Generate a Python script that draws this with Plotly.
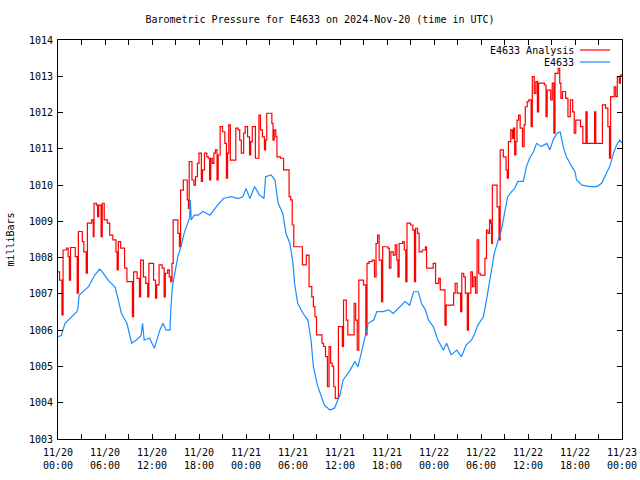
import pandas as pd
import plotly.graph_objects as go

# ---- data (hours after 2024-11-20 00:00 UTC, pressure in mbar) ----
analysis_hours = [0.0, 0.2, 0.5, 0.65, 1.1, 1.3, 1.45, 1.6, 2.2, 2.45, 2.6, 3.1, 3.3, 3.6, 3.75,
                  4.3, 4.5, 4.6, 4.9, 5.05, 5.2, 5.5, 5.65, 5.9, 6.3, 6.6, 7.0, 7.4, 7.55, 7.7,
                  8.0, 8.5, 8.8, 9.5, 9.65, 10.1, 10.4, 10.55, 10.9, 11.2, 11.45, 11.6, 12.2,
                  12.45, 12.6, 12.9, 13.3, 13.55, 13.7, 14.0, 14.2, 14.4, 14.55, 14.7, 15.3,
                  15.5, 15.65, 16.0, 16.5, 16.65, 16.75, 17.1, 17.35, 17.55, 17.8, 18.0, 18.3,
                  18.45, 18.7, 19.0, 19.2, 19.35, 19.5, 19.7, 19.9, 20.1, 20.3, 20.45, 20.7,
                  21.0, 21.3, 21.5, 21.65, 21.8, 22.0, 22.7, 23.0, 23.2, 23.4, 23.7, 23.9, 24.2,
                  24.45, 24.6, 24.8, 25.2, 25.65, 25.85, 26.1, 26.35, 26.5, 26.65, 27.3, 27.45,
                  27.6, 27.8, 27.95, 28.4, 28.8, 29.5, 29.7, 29.9, 30.1, 31.2, 31.7, 32.05,
                  32.4, 32.6, 32.8, 33.0, 33.7, 33.9, 34.15, 34.4, 34.6, 34.8, 35.0, 35.2, 35.4,
                  35.8, 36.3, 36.45, 36.8, 37.0, 37.8, 38.0, 38.2, 38.4, 39.0, 39.3, 39.45,
                  39.7, 40.1, 40.4, 40.6, 40.8, 41.0, 41.3, 41.45, 42.1, 42.3, 42.5, 42.8,
                  43.05, 43.25, 43.4, 43.55, 44.0, 44.2, 44.4, 44.55, 45.0, 45.3, 45.5, 45.65,
                  45.9, 46.1, 46.5, 46.9, 47.05, 47.9, 48.2, 48.6, 48.8, 49.4, 49.55, 50.5,
                  50.7, 50.95, 51.4, 51.55, 51.8, 52.0, 52.25, 52.4, 52.7, 52.9, 53.1, 53.3,
                  53.5, 53.7, 53.9, 54.5, 54.7, 54.9, 55.1, 55.25, 55.35, 55.45, 56.05, 56.3,
                  56.45, 56.85, 57.2, 57.35, 57.5, 57.8, 58.0, 58.15, 58.3, 58.45, 58.6, 58.8,
                  59.0, 59.3, 59.5, 59.65, 59.9, 60.1, 60.4, 60.55, 60.8, 61.0, 61.2, 61.35,
                  62.1, 62.3, 62.45, 62.9, 63.1, 63.3, 63.45, 63.85, 64.05, 64.2, 64.4, 64.8,
                  65.1, 65.4, 65.7, 65.9, 66.1, 66.7, 67.0, 67.4, 67.55, 68.5, 68.65, 69.5,
                  69.9, 70.2, 70.4, 70.55, 71.0, 71.2, 71.4, 71.65, 71.8, 72.0]
analysis_mb = [1007.61, 1007.38, 1006.42, 1008.21, 1008.26, 1008.03, 1007.38, 1008.28, 1008.03,
               1007.02, 1008.72, 1008.44, 1008.16, 1007.57, 1008.95, 1009.04, 1008.58, 1009.5,
               1009.45, 1009.13, 1009.45, 1008.58, 1009.5, 1009.04, 1008.95, 1008.62, 1008.49,
               1008.16, 1007.66, 1008.44, 1008.26, 1007.71, 1007.34, 1006.37, 1007.61, 1007.43,
               1006.92, 1007.93, 1007.47, 1007.29, 1006.92, 1007.84, 1007.38, 1006.88, 1007.25,
               1007.8, 1007.71, 1006.92, 1007.57, 1007.66, 1007.47, 1007.34, 1007.84, 1009.04,
               1008.67, 1008.3, 1009.86, 1010.14, 1009.59, 1009.36, 1010.65, 1010.14, 1010.0,
               1010.23, 1010.6, 1010.88, 1010.1, 1010.42, 1010.88, 1010.78, 1010.74, 1010.14,
               1010.74, 1010.6, 1010.88, 1010.97, 1010.14, 1010.83, 1011.61, 1011.47, 1011.15,
               1010.19, 1010.88, 1011.66, 1010.69, 1011.57, 1011.52, 1011.24, 1010.88, 1011.43,
               1011.61, 1011.33, 1010.83, 1011.2, 1011.61, 1010.74, 1011.93, 1011.52, 1011.33,
               1010.97, 1011.24, 1011.98, 1011.7, 1011.24, 1011.52, 1011.33, 1010.78, 1010.74,
               1010.42, 1009.68, 1009.59, 1008.9, 1008.3, 1007.8, 1008.07, 1007.2, 1006.92,
               1006.65, 1006.37, 1005.87, 1005.64, 1005.55, 1005.27, 1004.44, 1005.55, 1005.09,
               1005.0, 1004.44, 1004.12, 1006.1, 1005.55, 1006.83, 1006.28, 1005.87, 1006.74,
               1006.28, 1005.45, 1007.38, 1007.25, 1005.87, 1007.84, 1007.89, 1007.93, 1007.47,
               1008.39, 1008.62, 1007.93, 1006.79, 1008.3, 1008.26, 1007.71, 1008.16, 1008.07,
               1008.35, 1007.93, 1007.47, 1008.39, 1008.44, 1008.21, 1007.34, 1008.95, 1008.9,
               1008.76, 1007.34, 1008.81, 1008.67, 1008.16, 1008.21, 1008.3, 1007.71, 1007.84,
               1007.29, 1007.43, 1007.11, 1006.14, 1006.69, 1007.02, 1007.29, 1007.02, 1006.51,
               1007.57, 1007.47, 1007.02, 1006.0, 1007.02, 1007.61, 1007.2, 1007.47, 1007.02,
               1008.49, 1007.57, 1007.52, 1007.98, 1008.76, 1008.67, 1009.04, 1008.95, 1008.39,
               1010.0, 1009.4, 1008.49, 1010.97, 1010.78, 1010.42, 1010.19, 1011.2, 1011.52,
               1011.29, 1011.57, 1010.83, 1011.2, 1011.79, 1011.93, 1011.57, 1011.06, 1011.66,
               1012.16, 1012.3, 1012.35, 1011.61, 1012.99, 1012.53, 1012.85, 1012.02, 1012.81,
               1012.76, 1011.89, 1012.62, 1012.35, 1012.81, 1011.43, 1013.08, 1013.22, 1012.81,
               1012.39, 1012.58, 1012.39, 1011.89, 1012.35, 1012.02, 1011.43, 1011.79, 1011.61,
               1011.15, 1012.02, 1011.15, 1012.02, 1011.15, 1012.21, 1012.12, 1011.61, 1010.74,
               1012.44, 1012.71, 1012.44, 1012.99, 1012.81, 1013.03, 1013.03]

station_hours = [0, 0.4, 0.9, 1.75, 2.4, 2.55, 2.7, 3.9, 4.7, 5.3, 5.6, 6.4, 7.3, 7.7, 8.1, 8.8,
                 9.4, 10.0, 10.6, 10.8, 11.0, 11.7, 12.3, 13.0, 13.4, 13.8, 14.3, 14.4, 14.6,
                 15.3, 15.7, 16.1, 16.5, 16.8, 16.9, 17.0, 17.4, 17.9, 18.5, 19.4, 20.2, 21.1,
                 22.1, 23.0, 23.6, 24.0, 24.5, 25.1, 25.7, 26.3, 26.5, 27.2, 27.7, 28.1, 28.7,
                 29.1, 29.6, 30.0, 30.2, 30.6, 31.3, 31.9, 32.3, 32.6, 33.1, 33.6, 34.0, 34.7,
                 35.3, 35.7, 36.0, 36.4, 37.3, 37.9, 38.3, 38.8, 39.2, 39.6, 40.3, 40.7, 41.5,
                 42.2, 42.8, 43.7, 44.3, 44.9, 45.4, 46.0, 46.4, 46.9, 47.3, 47.9, 48.5, 49.2,
                 49.6, 50.2, 50.9, 51.5, 52.1, 52.8, 53.2, 53.6, 54.3, 54.7, 55.3, 55.7, 56.2,
                 56.6, 57.0, 57.4, 57.9, 58.3, 58.7, 59.4, 59.8, 60.2, 60.7, 61.1, 61.7, 62.4,
                 62.8, 63.2, 63.7, 64.1, 64.5, 64.9, 65.6, 66.0, 66.2, 66.9, 67.9, 68.8, 69.4,
                 69.8, 70.5, 70.9, 71.3, 71.7, 72.0]
station_mb = [1005.82, 1005.85, 1006.19, 1006.37, 1006.51, 1006.6, 1006.97, 1007.2, 1007.52,
              1007.68, 1007.62, 1007.38, 1007.18, 1006.83, 1006.46, 1006.19, 1005.64, 1005.73,
              1005.85, 1006.19, 1005.73, 1005.78, 1005.5, 1006.0, 1006.19, 1006.0, 1006.0,
              1006.56, 1007.2, 1008.03, 1008.3, 1008.67, 1008.95, 1009.1, 1009.59, 1009.04,
              1009.17, 1009.17, 1009.27, 1009.17, 1009.4, 1009.63, 1009.68, 1009.63, 1009.68,
              1009.91, 1009.63, 1009.96, 1009.73, 1009.63, 1010.23, 1010.28, 1010.14, 1009.5,
              1009.22, 1008.67, 1008.39, 1007.84, 1007.29, 1006.74, 1006.46, 1006.28, 1005.73,
              1005.0, 1004.49, 1004.21, 1003.94, 1003.80, 1003.85, 1004.07, 1004.21, 1004.63,
              1004.9, 1005.13, 1004.99, 1005.45, 1005.82, 1006.19, 1006.28, 1006.51, 1006.51,
              1006.56, 1006.46, 1006.65, 1006.79, 1006.69, 1007.06, 1007.06, 1006.74, 1006.56,
              1006.28, 1006.1, 1005.73, 1005.45, 1005.64, 1005.32, 1005.45, 1005.27, 1005.59,
              1005.73, 1005.91, 1006.14, 1006.37, 1006.83, 1007.57, 1008.12, 1008.49, 1008.76,
              1009.22, 1009.68, 1009.82, 1009.91, 1010.1, 1010.1, 1010.51, 1010.74, 1010.92,
              1011.15, 1011.06, 1011.15, 1010.97, 1011.24, 1011.43, 1011.47, 1011.06, 1010.78,
              1010.51, 1010.37, 1010.14, 1010.0, 1009.96, 1009.96, 1010.05, 1010.23, 1010.55,
              1010.87, 1011.1, 1011.24, 1011.16]

tick_hours = list(range(0, 73, 3))
tick_labels = ["11/20<br>00:00", "", "11/20<br>06:00", "", "11/20<br>12:00", "", "11/20<br>18:00", "",
               "11/21<br>00:00", "", "11/21<br>06:00", "", "11/21<br>12:00", "", "11/21<br>18:00", "",
               "11/22<br>00:00", "", "11/22<br>06:00", "", "11/22<br>12:00", "", "11/22<br>18:00", "",
               "11/23<br>00:00"]
y_ticks = list(range(1003, 1015))

base = pd.Timestamp("2024-11-20 00:00")
to_time = lambda hrs: [base + pd.Timedelta(hours=h) for h in hrs]

RED = "#ff0000"
BLUE = "#1a8cff"
FONT = "DejaVu Sans Mono"

W, H = 640, 480
L, T, R, B = 58, 40, 18, 41
PW, PH = W - L - R, H - T - B

fig = go.Figure()
fig.add_trace(go.Scatter(x=to_time(analysis_hours), y=analysis_mb, mode="lines",
                         line=dict(color=RED, width=1.2, shape="hv"),
                         name="E4633 Analysis", showlegend=False, hoverinfo="skip"))
fig.add_trace(go.Scatter(x=to_time(station_hours), y=station_mb, mode="lines",
                         line=dict(color=BLUE, width=1.2),
                         name="E4633", showlegend=False, hoverinfo="skip"))

# gnuplot-style key: text then line sample at the right
for i, (lab, col) in enumerate([("E4633 Analysis", RED), ("E4633", BLUE)]):
    ypx = 50 + 12 * i
    yp = 1 - (ypx - T) / PH
    fig.add_annotation(x=(576 - L) / PW, y=yp, xref="paper", yref="paper",
                       text=lab, showarrow=False, xanchor="right", yanchor="middle",
                       font=dict(family=FONT, size=10, color="black"))
    fig.add_shape(type="line", xref="paper", yref="paper",
                  x0=(580 - L) / PW, x1=(610 - L) / PW, y0=yp, y1=yp,
                  line=dict(color=col, width=1.2))

fig.update_layout(
    width=W, height=H,
    margin=dict(l=L, r=R, t=T, b=B, autoexpand=False),
    paper_bgcolor="white", plot_bgcolor="white",
    font=dict(family=FONT, size=10, color="black"),
    hovermode=False,
    title=dict(text="Barometric Pressure for E4633 on 2024-Nov-20 (time in UTC)",
               x=0.5, xanchor="center", y=1 - 19 / H, yanchor="middle",
               font=dict(family=FONT, size=10, color="black")),
)
fig.update_xaxes(range=[base, base + pd.Timedelta(hours=72)],
                 tickvals=to_time(tick_hours), ticktext=tick_labels,
                 ticks="inside", ticklen=5, tickcolor="black", tickwidth=1,
                 showline=True, linecolor="black", linewidth=1, mirror="ticks",
                 showgrid=False, zeroline=False, ticklabelstandoff=4,
                 tickfont=dict(family=FONT, size=10))
fig.update_yaxes(range=[1003, 1014], tickvals=y_ticks,
                 ticks="inside", ticklen=5, tickcolor="black", tickwidth=1,
                 showline=True, linecolor="black", linewidth=1, mirror="ticks",
                 showgrid=False, zeroline=False, ticklabelstandoff=2,
                 tickfont=dict(family=FONT, size=10),
                 title=dict(text="milliBars", font=dict(family=FONT, size=10), standoff=12))

fig.write_html("out.html",
               config={"displayModeBar": False, "staticPlot": True},
               post_script="document.body.style.margin='0';document.body.style.overflow='hidden';")
